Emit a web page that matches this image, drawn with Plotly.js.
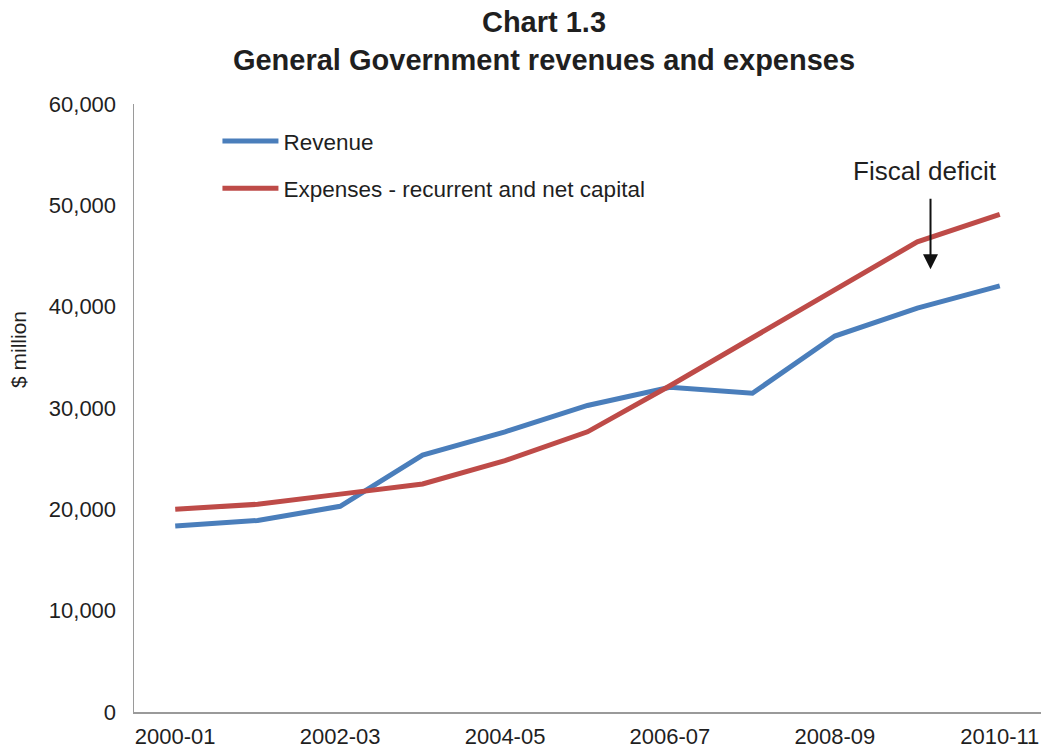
<!DOCTYPE html>
<html>
<head>
<meta charset="utf-8">
<script src="https://cdn.plot.ly/plotly-3.0.1.min.js"></script>
<style>
  html, body { margin: 0; padding: 0; background: #fff; }
  #chart { width: 1041px; height: 749px; }
</style>
</head>
<body>
<div id="chart"></div>
<script>
const years = ['2000-01','2001-02','2002-03','2003-04','2004-05','2005-06','2006-07','2007-08','2008-09','2009-10','2010-11'];
const revenue = [18350, 18900, 20300, 25350, 27650, 30250, 32050, 31450, 37100, 39850, 42050];
const expenses = [20000, 20500, 21500, 22500, 24800, 27650, 32200, 36900, 41600, 46400, 49100];
const xTickLabels = ['2000-01','2002-03','2004-05','2006-07','2008-09','2010-11'];
const yTickVals = [0, 10000, 20000, 30000, 40000, 50000, 60000];

const FONT = '"Liberation Sans", Arial, Helvetica, sans-serif';
const TXT = '#1f1f1f';

const traces = [
  {
    x: years, y: revenue, type: 'scatter', mode: 'lines', name: 'Revenue',
    line: { color: '#4a7ebb', width: 5 }, legendgroup: 'a'
  },
  {
    x: years, y: expenses, type: 'scatter', mode: 'lines', name: 'Expenses - recurrent and net capital',
    line: { color: '#be4b48', width: 5 }, legendgroup: 'b'
  }
];

const layout = {
  width: 1041, height: 749,
  margin: { l: 134, r: 0, t: 104, b: 37 },
  paper_bgcolor: '#fff', plot_bgcolor: '#fff',
  font: { family: FONT, size: 21, color: TXT },
  title: {
    text: 'Chart 1.3<br>General Government revenues and expenses',
    font: { family: FONT, size: 29, color: TXT, weight: 'bold' },
    xref: 'container', x: 544 / 1041, xanchor: 'center',
    yref: 'container', y: 1 - 32 / 749, yanchor: 'middle'
  },
  showlegend: true,
  legend: {
    x: 0.092, y: 0.974, xanchor: 'left', yanchor: 'top',
    bgcolor: 'rgba(0,0,0,0)', borderwidth: 0,
    itemwidth: 56,
    font: { family: FONT, size: 22.5, color: TXT },
    traceorder: 'grouped', tracegroupgap: 15
  },
  xaxis: {
    type: 'category', range: [-0.5, 10.5],
    tickvals: xTickLabels, ticktext: xTickLabels,
    showgrid: false, zeroline: false,
    showline: true, linecolor: '#9a9a9a', linewidth: 1.5,
    ticks: '', ticklabelstandoff: 4,
    tickfont: { family: FONT, size: 22, color: TXT },
    fixedrange: true
  },
  yaxis: {
    range: [0, 60000], tickvals: yTickVals, tickformat: ',d',
    showgrid: false, zeroline: false,
    showline: true, linecolor: '#9a9a9a', linewidth: 1.5,
    ticks: '', ticklabelstandoff: 12,
    tickfont: { family: FONT, size: 22, color: TXT },
    fixedrange: true
  },
  annotations: [
    {
      text: '$ million', textangle: -90, showarrow: false,
      xref: 'paper', yref: 'paper',
      x: (18 - 134) / 907, y: (712 - 350) / 608,
      xanchor: 'center', yanchor: 'middle',
      font: { family: FONT, size: 21, color: TXT }
    },
    {
      text: 'Fiscal deficit', showarrow: false,
      xref: 'paper', yref: 'paper',
      x: (925 - 134) / 907, y: (712 - 171) / 608,
      xanchor: 'center', yanchor: 'middle',
      font: { family: FONT, size: 26, color: TXT }
    },
    {
      text: '', showarrow: true,
      xref: 'x', yref: 'y', x: 9.16, y: 43700,
      axref: 'pixel', ayref: 'pixel', ax: 0, ay: -72,
      arrowhead: 2, arrowsize: 1.5, arrowwidth: 2, arrowcolor: '#111'
    }
  ]
};

Plotly.newPlot('chart', traces, layout, { displayModeBar: false, staticPlot: true });
</script>
</body>
</html>
